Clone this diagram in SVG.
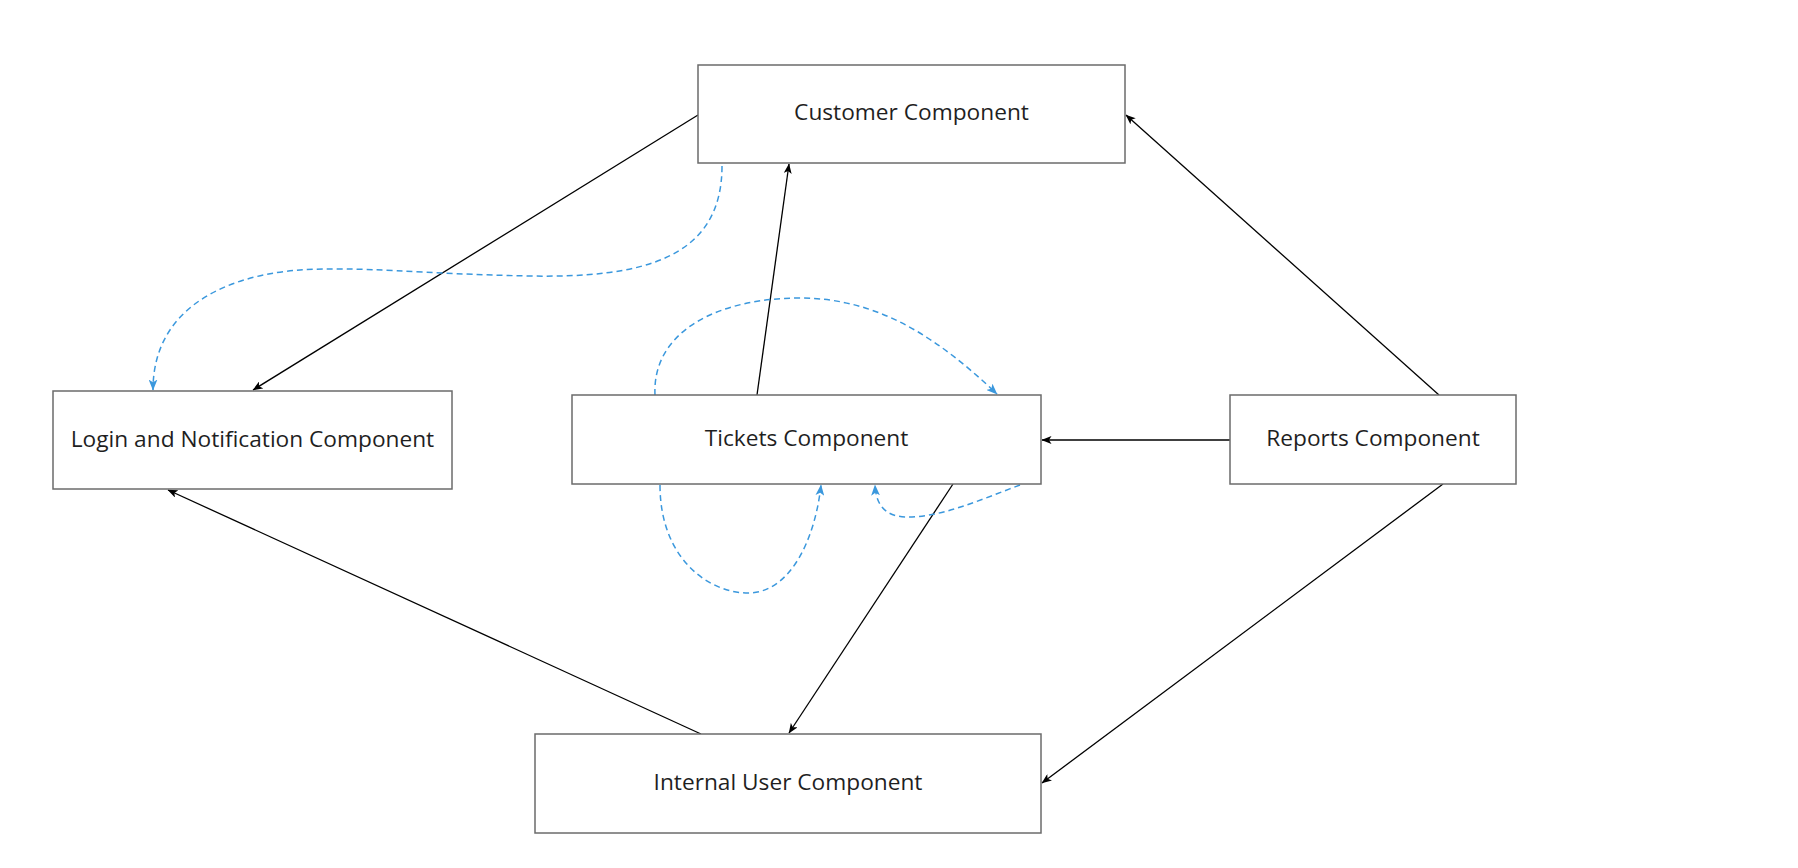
<svg xmlns="http://www.w3.org/2000/svg" width="1798" height="868" viewBox="0 0 1798 868">
<style>
.box{fill:#ffffff;stroke:#6b6b6b;stroke-width:1.5}
.lbl{font-family:"Open Sans","Liberation Sans",sans-serif;font-size:22.7px;fill:#1f1f1f;text-anchor:middle}
.edge{fill:none;stroke:#000000;stroke-width:1.3;marker-end:url(#ah)}
.dash{fill:none;stroke:#3b98dd;stroke-width:1.5;stroke-dasharray:6 4;marker-end:url(#bh)}
</style>
<defs>
<marker id="ah" viewBox="0 0 10 8" refX="9.5" refY="4" markerWidth="10" markerHeight="8" markerUnits="userSpaceOnUse" orient="auto">
<path d="M0,0 L10,4 L0,8 L2.5,4 Z" fill="#000000"/>
</marker>
<marker id="bh" viewBox="0 0 10 8" refX="9.5" refY="4" markerWidth="11" markerHeight="9" markerUnits="userSpaceOnUse" orient="auto">
<path d="M0,0 L10,4 L0,8 L2.5,4 Z" fill="#3b98dd"/>
</marker>
</defs>
<rect width="1798" height="868" fill="#ffffff"/>
<g id="connectors">
<path class="edge" d="M698 115 L253 390"/>
<path class="edge" d="M757 395 L789 164"/>
<path class="edge" d="M1439 395 L1126 115"/>
<path class="edge" d="M1230 440 L1042 440"/>
<path class="edge" d="M1443 484 L1042 783"/>
<path class="edge" d="M953 484 L789 733"/>
<path class="edge" d="M701 734 L168 490"/>
<path class="dash" d="M722 166 C722 260 640 278 530 276 S360 266 300 270 S153 300 153 390"/>
<path class="dash" d="M655 395 C652 330 720 298 800 298 C880 298 940 340 997 394"/>
<path class="dash" d="M660 485 C660 560 710 593 748 593 C790 593 815 540 821 485"/>
<path class="dash" d="M1020 485 C980 500 940 518 905 517 C885 516 876 505 875 485"/>
</g>
<g id="customer">
<rect class="box" x="698" y="65" width="427" height="98"/>
<text class="lbl" x="911.5" y="120">Customer Component</text>
</g>
<g id="login">
<rect class="box" x="53" y="391" width="399" height="98"/>
<text class="lbl" x="252.5" y="446.5">Login and Notification Component</text>
</g>
<g id="tickets">
<rect class="box" x="572" y="395" width="469" height="89"/>
<text class="lbl" x="806.5" y="446">Tickets Component</text>
</g>
<g id="reports">
<rect class="box" x="1230" y="395" width="286" height="89"/>
<text class="lbl" x="1373" y="446">Reports Component</text>
</g>
<g id="internal-user">
<rect class="box" x="535" y="734" width="506" height="99"/>
<text class="lbl" x="788" y="790">Internal User Component</text>
</g>
</svg>
